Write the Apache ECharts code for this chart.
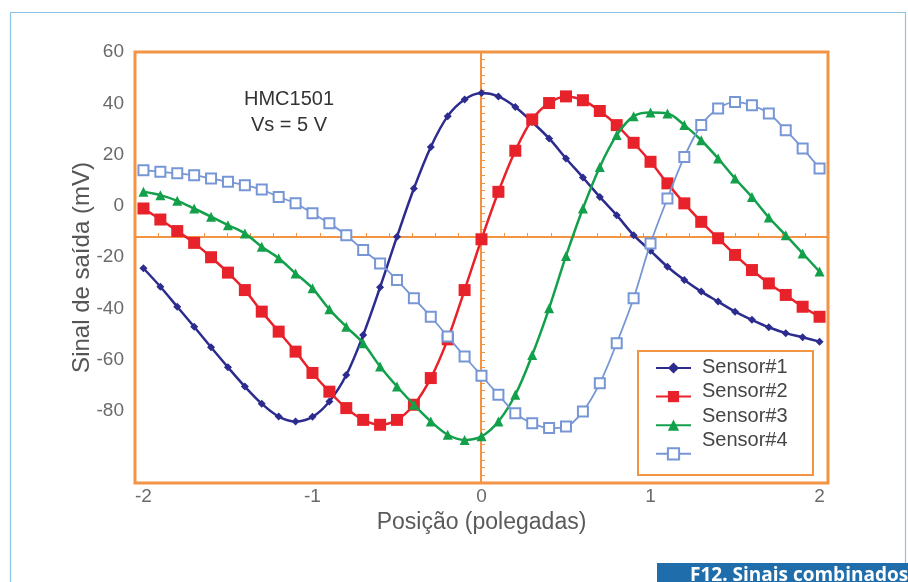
<!DOCTYPE html>
<html>
<head>
<meta charset="utf-8">
<script src="https://cdn.jsdelivr.net/npm/echarts@6/dist/echarts.min.js"></script>
<style>
html,body{margin:0;padding:0;background:#fff;}
#chart{width:908px;height:582px;}
</style>
</head>
<body>
<div id="chart"></div>
<script>
// Positions (polegadas)
var positions = [-2.0,-1.9,-1.8,-1.7,-1.6,-1.5,-1.4,-1.3,-1.2,-1.1,-1.0,-0.9,-0.8,-0.7,-0.6,-0.5,-0.4,-0.3,-0.2,-0.1,0.0,
  0.1,0.2,0.3,0.4,0.5,0.6,0.7,0.8,0.9,1.0,1.1,1.2,1.3,1.4,1.5,1.6,1.7,1.8,1.9,2.0];
var seriesNames = ['Sensor#1','Sensor#2','Sensor#3','Sensor#4'];
var sensor1 = [-24.3,-31.5,-39.3,-47.1,-55.1,-62.9,-70.4,-77.1,-82.1,-84.0,-82.2,-76.2,-65.9,-50.3,-31.7,-12.0,6.8,23.0,35.0,41.5,44.0,
  42.7,38.6,32.7,26.3,18.5,11.1,3.5,-3.6,-11.4,-17.5,-23.7,-28.9,-33.4,-37.3,-41.2,-44.4,-47.3,-49.6,-51.2,-52.9];
var sensor2 = [-1.0,-5.3,-9.8,-14.4,-20.0,-26.0,-32.8,-41.2,-49.0,-56.8,-65.1,-72.4,-78.8,-83.4,-85.3,-83.4,-77.5,-67.1,-52.0,-32.8,-13.0,
  5.5,21.5,33.7,40.1,42.7,41.2,37.0,31.5,24.6,17.2,8.8,1.0,-6.2,-12.6,-19.1,-25.0,-30.2,-34.7,-39.3,-43.2];
var sensor3 = [5.5,4.2,2.0,-1.0,-4.2,-7.5,-10.7,-15.9,-20.4,-26.3,-32.1,-40.3,-47.1,-53.5,-62.6,-70.4,-77.5,-84.0,-89.2,-91.2,-89.8,
  -84.0,-73.6,-58.1,-39.9,-19.5,-1.0,15.2,27.6,35.0,36.4,36.0,31.5,25.6,18.5,10.7,3.5,-4.5,-11.4,-18.5,-25.6];
var sensor4 = [13.9,13.3,12.7,12.0,10.7,9.4,8.1,6.4,3.5,1.0,-2.9,-6.8,-11.4,-17.2,-22.4,-28.9,-36.0,-43.2,-50.9,-58.7,-66.2,
  -73.6,-80.8,-84.7,-86.6,-86.0,-80.1,-69.1,-53.5,-36.0,-14.6,2.9,19.1,31.5,38.0,40.5,39.2,36.0,29.5,22.4,14.6];
var xTickLabels = [-2,-1,0,1,2];
var yTickLabels = [-80,-60,-40,-20,0,20,40,60];

function pairs(vals){ return positions.map(function(x,i){ return [x, vals[i]]; }); }

var chart = echarts.init(document.getElementById('chart'), null, {renderer:'canvas'});
var orange = '#f39445';
var fontFam = '"Liberation Sans", Arial, sans-serif';

var styles = [
  {color:'#2c2b8e', symbol:'diamond', size:8, width:2.5},
  {color:'#e8222a', symbol:'rect', size:12, width:2.5},
  {color:'#13a04b', symbol:'triangle', size:10, width:2.5},
  {color:'#7696d6', symbol:'emptyRect', size:10, width:1.8}
];
var dataSets = [sensor1, sensor2, sensor3, sensor4];

var series = dataSets.map(function(d, i){
  var s = styles[i];
  return {
    name: seriesNames[i], type:'line', xAxisIndex:0, yAxisIndex:0,
    data: pairs(d), smooth: 0.35,
    symbol: s.symbol, symbolSize: s.size, showSymbol:true,
    lineStyle:{color:s.color, width:s.width},
    itemStyle:{color:s.color, borderColor:s.color, borderWidth: i===3 ? 1.5 : 0},
    emphasis:{disabled:true}, animation:false, z: 3 + i
  };
});

var option = {
  backgroundColor:'#fff',
  animation:false,
  grid:{left:135, right:80, top:52, bottom:99, show:true, borderColor:orange, borderWidth:3, backgroundColor:'#fff'},
  xAxis:[
    {type:'value', min:-2.05, max:2.05,
     name:'Posição (polegadas)', nameLocation:'middle', nameGap:26,
     nameTextStyle:{fontSize:23, color:'#5a5a5a', fontFamily:fontFam},
     axisLine:{show:false, onZero:false}, axisTick:{show:false}, splitLine:{show:false},
     axisLabel:{customValues:xTickLabels, fontSize:19, color:'#6a6a6a', fontFamily:fontFam, margin:4}
    },
    {type:'value', min:-2.05, max:2.05, interval:0.41/3, position:'bottom', offset:-246,
     axisLine:{show:true, onZero:false, lineStyle:{color:orange, width:2}},
     axisTick:{show:true, inside:true, length:4, lineStyle:{color:orange, width:1}},
     axisLabel:{show:false}, splitLine:{show:false}}
  ],
  yAxis:[
    {type:'value', min:-108, max:60,
     name:'Sinal de saída (mV)', nameLocation:'middle', nameGap:41, nameRotate:90, nameMoveOverlap:false,
     nameTextStyle:{fontSize:24, color:'#555', fontFamily:fontFam},
     axisLine:{show:false, onZero:false}, axisTick:{show:false}, splitLine:{show:false},
     axisLabel:{customValues:yTickLabels, fontSize:19, color:'#6a6a6a', fontFamily:fontFam, margin:11}
    },
    {type:'value', min:-108, max:60, interval:3, position:'left', offset:-346,
     axisLine:{show:true, onZero:false, lineStyle:{color:orange, width:2}},
     axisTick:{show:true, inside:true, length:4, lineStyle:{color:orange, width:1}},
     axisLabel:{show:false}, splitLine:{show:false}}
  ],
  legend:[
    {orient:'vertical', left:650, top:356, itemWidth:35, itemHeight:14, itemGap:16,
     data:seriesNames, formatter:function(){ return ''; }, selectedMode:false, z:20},
    {orient:'vertical', left:692, top:352, itemWidth:0, itemHeight:0, itemGap:4.5, icon:'none',
     data:seriesNames, selectedMode:false, z:20,
     textStyle:{fontSize:20, lineHeight:20, color:'#454545', fontFamily:fontFam, padding:0}}
  ],
  graphic:[
    {type:'rect', left:8, top:10, shape:{width:895, height:600}, style:{fill:null, stroke:'#8ec2e2', lineWidth:1.2}, z:0, silent:true},
    {type:'rect', left:637, top:350, shape:{width:175, height:124}, style:{fill:'#fff', stroke:orange, lineWidth:2}, z:10, silent:true},
    {type:'text', x:289, y:99, style:{text:'HMC1501', fontSize:20, fill:'#333', fontFamily:fontFam, align:'center', verticalAlign:'middle'}, z:10},
    {type:'text', x:289, y:125, style:{text:'Vs = 5 V', fontSize:20, fill:'#333', fontFamily:fontFam, align:'center', verticalAlign:'middle'}, z:10},
    {type:'rect', left:657, top:563, shape:{width:251, height:19}, style:{fill:'#1f6dab'}, z:10, silent:true},
    {type:'text', x:690, y:576, style:{text:'F12. Sinais combinados', fontSize:19, fontWeight:'bold', fill:'#fff', fontFamily:'"Open Sans", sans-serif', align:'left', verticalAlign:'middle'}, z:11}
  ],
  series: series
};
chart.setOption(option);
</script>
</body>
</html>
